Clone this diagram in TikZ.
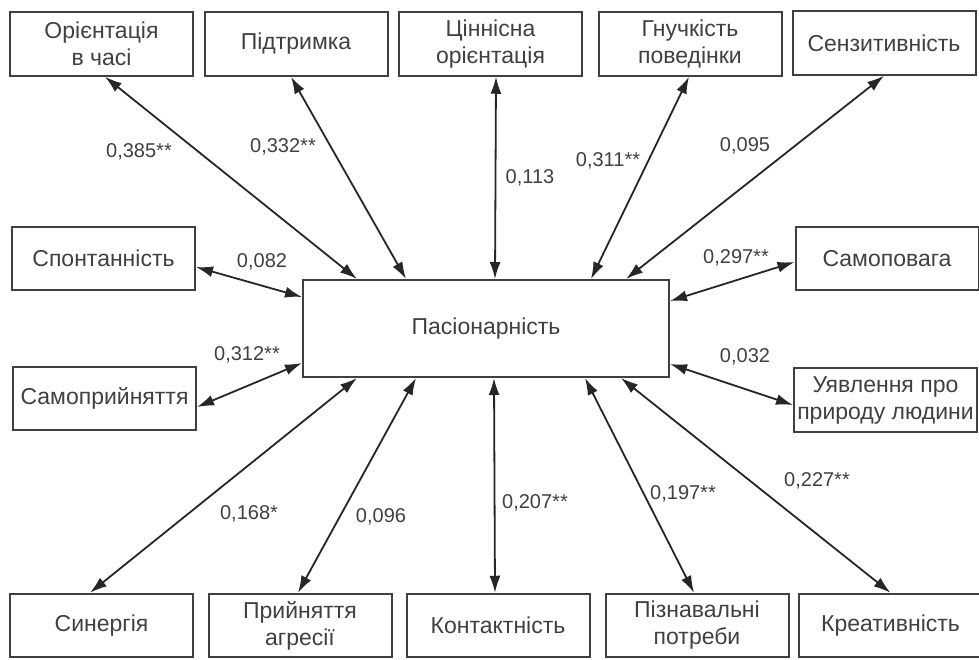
\documentclass[tikz,border=0pt]{standalone}
\usepackage{fontspec}
\setmainfont{Liberation Sans}
\usetikzlibrary{arrows.meta}

\begin{document}
\begin{tikzpicture}[x=0.5pt, y=-0.5pt]
        \tikzstyle{every node}=[text=black!75, font=\fontsize{11.5}{13.5}\selectfont]
        \tikzstyle{box}=[draw=black!75, line width=1pt, minimum width=91.5pt, minimum height=31.75pt, align=center, inner sep=1pt]
        \tikzstyle{coef}=[font=\fontsize{10}{12}\selectfont, inner sep=0pt]
        \tikzstyle{link}=[draw=black!85, line width=0.9pt, {Latex[length=8.5pt,width=5.5pt]}-{Latex[length=8.5pt,width=5.5pt]}]
        \useasboundingbox (0,0) rectangle (979,659);
        % boxes
        \node [box] (ot) at (101.5,44) {Орієнтація\\в часі};
        \node [box] (pt) at (296,44) {Підтримка};
        \node [box] (co) at (490.5,44) {Ціннісна\\орієнтація};
        \node [box] (gp) at (690,44) {Гнучкість\\поведінки};
        \node [box] (se) at (884,43) {Сензитивність};
        \node [box] (sp) at (103.5,258.5) {Спонтанність};
        \node [box] (sa) at (104.5,398.5) {Самоприйняття};
        \node [box, minimum width=183pt, minimum height=48.5pt] (pas) at (486,328.5) {Пасіонарність};
        \node [box] (sv) at (887,258.5) {Самоповага};
        \node [box] (uy) at (885.5,400) {Уявлення про\\природу людини};
        \node [box] (sy) at (101.5,625.5) {Синергія};
        \node [box] (pa) at (300,625.5) {Прийняття\\агресії};
        \node [box] (ko) at (498,625.5) {Контактність};
        \node [box] (pp) at (697,625.5) {Пізнавальні\\потреби};
        \node [box] (kr) at (890.5,625.5) {Креативність};
        % links
        \draw [link] ([xshift=1.75pt]ot.south) -- ([xshift=27.5pt]pas.north west);
        \draw [link] ([xshift=-2.5pt]pt.south) -- ([xshift=52pt]pas.north west);
        \draw [link] ([xshift=2.75pt]co.south) -- ([xshift=96.5pt]pas.north west);
        \draw [link] ([xshift=-0.5pt]gp.south) -- ([xshift=144.5pt]pas.north west);
        \draw [link] (se.south) -- ([xshift=162pt]pas.north west);
        \draw [link] ([yshift=-4.25pt]sp.east) -- ([yshift=-9pt]pas.north west);
        \draw [link] ([yshift=-4.25pt]sa.east) -- ([yshift=7.5pt]pas.south west);
        \draw [link] ([yshift=-1.75pt]sv.west) -- ([yshift=-11pt]pas.north east);
        \draw [link] ([yshift=-2.5pt]uy.west) -- ([yshift=7pt]pas.south east);
        \draw [link] ([xshift=-5.75pt]sy.north) -- ([xshift=27.5pt]pas.south west);
        \draw [link] ([xshift=-1pt]pa.north) -- ([xshift=57pt]pas.south west);
        \draw [link] ([xshift=-1.5pt]ko.north) -- ([xshift=96pt]pas.south west);
        \draw [link] ([xshift=-1.5pt]pp.north) -- ([xshift=141.5pt]pas.south west);
        \draw [link] (kr.north) -- ([xshift=159.5pt]pas.south west);
        % coefficients
        \node [coef] (k1) at (139,152) {0,385**};
        \node [coef] (k2) at (283,147) {0,332**};
        \node [coef] (k3) at (530,178) {0,113};
        \node [coef] (k4) at (608,161) {0,311**};
        \node [coef] (k5) at (745,146) {0,095};
        \node [coef] (k6) at (262,262) {0,082};
        \node [coef] (k7) at (247,355) {0,312**};
        \node [coef] (k8) at (736,258) {0,297**};
        \node [coef] (k9) at (745,357) {0,032};
        \node [coef] (k10) at (249,514) {0,168*};
        \node [coef] (k11) at (381,517) {0,096};
        \node [coef] (k12) at (535,503) {0,207**};
        \node [coef] (k13) at (683,494) {0,197**};
        \node [coef] (k14) at (817,481) {0,227**};
\end{tikzpicture}
\end{document}
